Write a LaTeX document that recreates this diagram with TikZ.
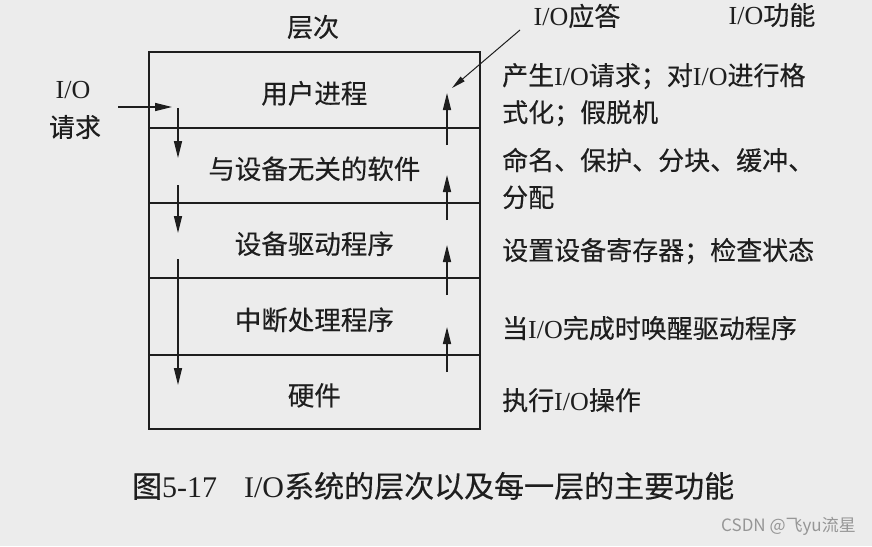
\documentclass[tikz,border=0pt]{standalone}
\usepackage{fontspec}
\setmainfont{Liberation Serif}
\newfontfamily\cjk[FakeBold=0.3]{Noto Sans CJK SC}
\newfontfamily\wmcjk{Noto Sans CJK SC}
\usetikzlibrary{arrows.meta}
\definecolor{paper}{RGB}{236,236,236}
\definecolor{ink}{RGB}{30,30,30}
\definecolor{wmark}{RGB}{150,150,150}
\newcommand\IO{{\rmfamily I/O}}
\begin{document}
\begin{tikzpicture}[x=1pt,y=-1pt,
  layer/.style={draw=ink, line width=1.7pt, minimum width=331pt, anchor=north west,
    inner sep=0pt, text=ink, text height=27pt, text depth=0pt,
    font=\cjk\fontsize{26.5}{26.5}\selectfont},
  lbl/.style={inner sep=0pt, text=ink, font=\cjk\fontsize{26}{26}\selectfont},
  fn/.style={lbl, anchor=base west},
  flow/.style={draw=ink, line width=1.6pt, -{Triangle[length=17pt,width=8pt]}},
]
\fill[paper] (0,0) rectangle (872,546);
\useasboundingbox (0,0) rectangle (872,546);

% layers
\node[layer, minimum height=76pt] (L1) at (148,51)  {用户进程};
\node[layer, minimum height=75pt] (L2) at (148,127) {与设备无关的软件};
\node[layer, minimum height=75pt] (L3) at (148,202) {设备驱动程序};
\node[layer, minimum height=77pt] (L4) at (148,277) {中断处理程序};
\node[layer, minimum height=74pt] (L5) at (148,354) {硬件};

% headings and side labels
\node[lbl] (hdr)  at (313,27) {层次};
\node[lbl] (ans)  at (577,16) {\IO 应答};
\node[lbl] (fun)  at (772,15) {\IO 功能};
\node[lbl] (io)   at (73,90)  {\IO};
\node[lbl] (req)  at (75,127) {请求};

% functions
\node[fn] (f1a) at (502,85)  {产生\IO 请求；对\IO 进行格};
\node[fn] (f1b) at (502,122) {式化；假脱机};
\node[fn] (f2a) at (502,170) {命名、保护、分块、缓冲、};
\node[fn] (f2b) at (502,207) {分配};
\node[fn] (f3)  at (502,260) {设置设备寄存器；检查状态};
\node[fn] (f4)  at (502,338) {当\IO 完成时唤醒驱动程序};
\node[fn] (f5)  at (502,410) {执行\IO 操作};

% caption and mark
\node[inner sep=0pt, text=ink, anchor=west, font=\cjk\fontsize{30}{30}\selectfont] (cap) at (132,486)
  {图{\rmfamily 5-17}\hspace{27pt}\IO 系统的层次以及每一层的主要功能};
\node[inner sep=0pt, text=wmark, anchor=east, font=\wmcjk\fontsize{17}{17}\selectfont] (wm) at (856,526)
  {CSDN @飞yu流星};

% arrow end points
\coordinate (rqs) at (118,107); \coordinate (rqe) at (172,107);
\coordinate (d1s) at (178,108); \coordinate (d1e) at (178,158);
\coordinate (d2s) at (178,185); \coordinate (d2e) at (178,233);
\coordinate (d3s) at (178,259); \coordinate (d3e) at (178,385);
\coordinate (u1s) at (447,145); \coordinate (u1e) at (447,93);
\coordinate (u2s) at (447,220); \coordinate (u2e) at (447,175);
\coordinate (u3s) at (447,295); \coordinate (u3e) at (447,245);
\coordinate (u4s) at (447,372); \coordinate (u4e) at (447,327);
\coordinate (ans0) at (520,30); \coordinate (ans1) at (452,88);

\draw[flow] (rqs) -- (rqe);
\draw[flow] (d1s) -- (d1e);
\draw[flow] (d2s) -- (d2e);
\draw[flow] (d3s) -- (d3e);
\draw[flow] (u1s) -- (u1e);
\draw[flow] (u2s) -- (u2e);
\draw[flow] (u3s) -- (u3e);
\draw[flow] (u4s) -- (u4e);
\draw[flow, line width=1pt, -{Triangle[length=14pt,width=6pt]}] (ans0) -- (ans1);
\end{tikzpicture}
\end{document}
